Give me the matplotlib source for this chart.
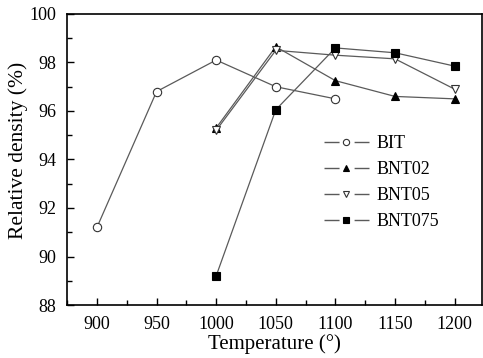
import matplotlib
matplotlib.use("Agg")
import matplotlib.pyplot as plt
from matplotlib.lines import Line2D
from matplotlib.ticker import MultipleLocator

plt.rcParams['font.family'] = ['Liberation Serif', 'DejaVu Serif']
plt.rcParams['lines.scale_dashes'] = False

temp = [900, 950, 1000, 1050, 1100, 1150, 1200]
bit_t = [900, 950, 1000, 1050, 1100]
bit = [91.2, 96.8, 98.1, 97.0, 96.5]
bnt_t = [1000, 1050, 1100, 1150, 1200]
bnt02 = [95.3, 98.65, 97.25, 96.6, 96.5]
bnt05 = [95.2, 98.5, 98.3, 98.15, 96.9]
bnt075 = [89.2, 96.05, 98.6, 98.4, 97.85]

labels = ['BIT', 'BNT02', 'BNT05', 'BNT075']
markers = ['o', '^', 'v', 's']
faces = ['white', 'black', 'white', 'black']

fig = plt.figure(figsize=(4.83, 3.58), dpi=100)
ax = fig.add_axes([0.139, 0.148, 0.859, 0.813])

lc = '#5a5a5a'
series = [(bit_t, bit), (bnt_t, bnt02), (bnt_t, bnt05), (bnt_t, bnt075)]
for (t, v), m, fc in zip(series, markers, faces):
    ms = 5.5 if m == 's' else 6
    ax.plot(t, v, '-', marker=m, color=lc, lw=0.9, ms=ms, mfc=fc,
            mec='#333333' if fc == 'white' else 'black', mew=0.8)

ax.set_xlim(875, 1223)
ax.set_ylim(88, 100)
ax.set_xticks(temp)
ax.xaxis.set_minor_locator(MultipleLocator(25))
ax.yaxis.set_major_locator(MultipleLocator(2))
ax.yaxis.set_minor_locator(MultipleLocator(1))
ax.tick_params(which='both', direction='in', labelsize=13, width=1)
ax.tick_params(which='major', length=5)
ax.tick_params(which='minor', length=3.5)
ax.tick_params(axis='x', pad=8)
ax.tick_params(axis='y', pad=8)
for s in ax.spines.values():
    s.set_linewidth(1.2)

ax.set_xlabel('Temperature (°)', fontsize=15, labelpad=1)
ax.set_ylabel('Relative density (%)', fontsize=15.5)
ax.yaxis.set_label_coords(-0.094, 0.53)

# legend handles: dash - marker - dash
fs = 13
hl = 2.5
seg = hl * fs / 3.0
handles = []
for m, fc in zip(markers, faces):
    handles.append(Line2D([], [], color=lc, lw=1, linestyle=(0, (seg, seg)),
                          marker=m, ms=4.5, mfc=fc,
                          mec='#333333' if fc == 'white' else 'black', mew=0.8))
ax.legend(handles, labels, loc='upper left', bbox_to_anchor=(0.670, 0.622),
          bbox_transform=fig.transFigure,
          frameon=False, fontsize=fs, handlelength=hl, handletextpad=0.45,
          labelspacing=0.5, borderaxespad=0, borderpad=0)

fig.savefig('out.png', dpi=100)
